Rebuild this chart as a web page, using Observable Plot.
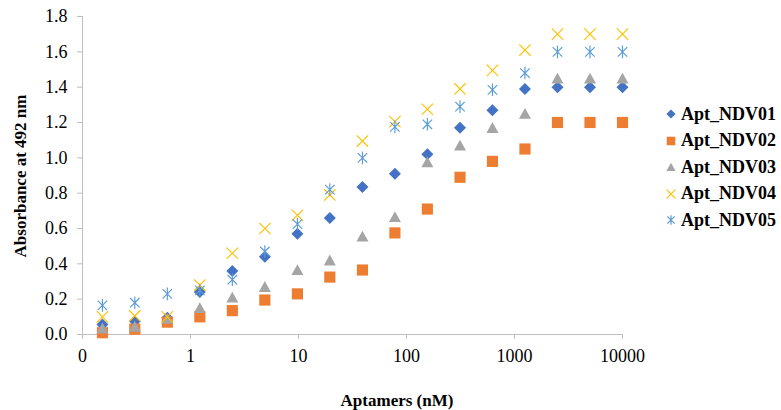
<!DOCTYPE html>
<html><head><meta charset="utf-8">
<script src="https://cdn.jsdelivr.net/npm/d3@7"></script>
<script src="https://cdn.jsdelivr.net/npm/@observablehq/plot@0.6"></script>
<style>
body{margin:0;background:#fff;}
#wrap{position:relative;width:781px;height:410px;font-family:'Liberation Serif';}
#wrap svg text, #wrap svg{font-family:'Liberation Serif' !important;}
#legend{position:absolute;left:664px;top:101px;font-family:'Liberation Serif';}
.item{display:flex;align-items:center;height:26.5px;font-weight:bold;font-size:18px;color:#000;font-family:'Liberation Serif';}
.item svg{margin-right:3px;}
</style></head><body><div id="wrap"></div>
<script>
// Aptamer concentrations (nM), two-fold serial dilution
const concentrations = [0.153,0.305,0.61,1.22,2.44,4.88,9.77,19.5,39.1,78.1,156,313,625,1250,2500,5000,10000];
const seriesNames = ["Apt_NDV01","Apt_NDV02","Apt_NDV03","Apt_NDV04","Apt_NDV05"];
const ndv01 = [0.056,0.075,0.095,0.24,0.36,0.44,0.57,0.66,0.835,0.91,1.02,1.17,1.27,1.39,1.40,1.40,1.40];
const ndv02 = [0.01,0.03,0.07,0.10,0.135,0.195,0.23,0.325,0.365,0.575,0.71,0.89,0.98,1.05,1.20,1.20,1.20];
const ndv03 = [0.035,0.045,0.09,0.15,0.21,0.27,0.365,0.42,0.555,0.665,0.975,1.07,1.17,1.25,1.45,1.45,1.45];
const ndv04 = [0.10,0.105,0.10,0.28,0.46,0.60,0.675,0.79,1.095,1.205,1.275,1.39,1.495,1.61,1.70,1.70,1.70];
const ndv05 = [0.165,0.18,0.23,0.25,0.31,0.47,0.625,0.82,1.00,1.175,1.19,1.29,1.385,1.48,1.60,1.60,1.60];
const seriesValues = [ndv01, ndv02, ndv03, ndv04, ndv05];
const colors = ["#4472C4","#ED7D31","#A5A5A5","#FFC000","#5B9BD5"];
const xTicks = [0.1,1,10,100,1000,10000];
const xTickLabels = ["0","1","10","100","1000","10000"];
const yTicks = [0,0.2,0.4,0.6,0.8,1.0,1.2,1.4,1.6,1.8];

// Excel-like marker shapes
const rad = s => Math.sqrt(s/Math.PI);
const diamond = {draw(c,s){const r=rad(s);c.moveTo(0,-r);c.lineTo(r,0);c.lineTo(0,r);c.lineTo(-r,0);c.closePath();}};
const square = {draw(c,s){const r=rad(s)*0.93;c.moveTo(-r,-r);c.lineTo(r,-r);c.lineTo(r,r);c.lineTo(-r,r);c.closePath();}};
const triangle = {draw(c,s){const r=rad(s);c.moveTo(0,-r*0.95);c.lineTo(r,r*0.85);c.lineTo(-r,r*0.85);c.closePath();}};
const times = {draw(c,s){const r=rad(s)*0.95;c.moveTo(-r,-r);c.lineTo(r,r);c.moveTo(-r,r);c.lineTo(r,-r);}};
const star = {draw(c,s){const r=rad(s)*1.05;const d=r*0.75;c.moveTo(0,-r);c.lineTo(0,r);c.moveTo(-d,-d);c.lineTo(d,d);c.moveTo(-d,d);c.lineTo(d,-d);}};
const symbols = [diamond, square, triangle, times, star];
const filled = [true,true,true,false,false];

const rows = seriesNames.map((name,i)=>concentrations.map((c,j)=>({series:name, conc:c, abs:seriesValues[i][j]})));

const gray = "#bfbfbf";
const marks = [
  Plot.ruleY([0], {stroke: gray}),
  Plot.ruleX([0.1], {stroke: gray}),
  Plot.axisY({ticks: yTicks, tickFormat: d3.format(".1f"), tickSize: 5, tickPadding: 10, stroke: gray, fill: "#000", fontSize: 18, label: null}),
  Plot.axisX({ticks: xTicks, tickFormat: (d)=>xTickLabels[xTicks.indexOf(d)], tickSize: 5, tickPadding: 10, stroke: gray, fill: "#000", fontSize: 18, label: null})
];
rows.forEach((data,i)=>{
  marks.push(Plot.dot(data, {x:"conc", y:"abs", r:6, symbol: symbols[i],
    fill: filled[i] ? colors[i] : "none", stroke: filled[i] ? "none" : colors[i], strokeWidth: 1.15}));
});

const chart = Plot.plot({
  width: 781, height: 410,
  marginLeft: 82, marginRight: 159, marginTop: 16, marginBottom: 76,
  style: {fontSize: "18px", background: "#fff", color: "#000"},
  x: {type: "log", domain: [0.1, 10000], axis: null},
  y: {domain: [0, 1.8], axis: null},
  marks
});

const svg = d3.select(chart);
svg.selectAll("text").attr("font-family","Liberation Serif");
svg.append("text").attr("x", 397).attr("y", 400).attr("dy","0.35em").attr("text-anchor","middle")
  .attr("font-weight","bold").attr("font-size", 17).attr("font-family","Liberation Serif").text("Aptamers (nM)");
svg.append("text").attr("transform","translate(20,176) rotate(-90)").attr("dy","0.35em").attr("text-anchor","middle")
  .attr("font-weight","bold").attr("font-size", 17).attr("font-family","Liberation Serif").text("Absorbance at 492 nm");

const wrap = document.getElementById("wrap");
wrap.appendChild(chart);

const legend = document.createElement("div");
legend.id = "legend";
seriesNames.forEach((name,i)=>{
  const item = document.createElement("div");
  item.className = "item";
  const p = d3.path();
  symbols[i].draw(p, Math.PI*4.6*4.6);
  const s = d3.create("svg").attr("width",14).attr("height",14);
  s.append("path").attr("transform","translate(7,7)").attr("d", p.toString())
    .attr("fill", filled[i] ? colors[i] : "none").attr("stroke", filled[i] ? "none" : colors[i]).attr("stroke-width",1.2);
  item.appendChild(s.node());
  const t = document.createElement("span");
  t.textContent = name;
  item.appendChild(t);
  legend.appendChild(item);
});
wrap.appendChild(legend);
</script></body></html>
